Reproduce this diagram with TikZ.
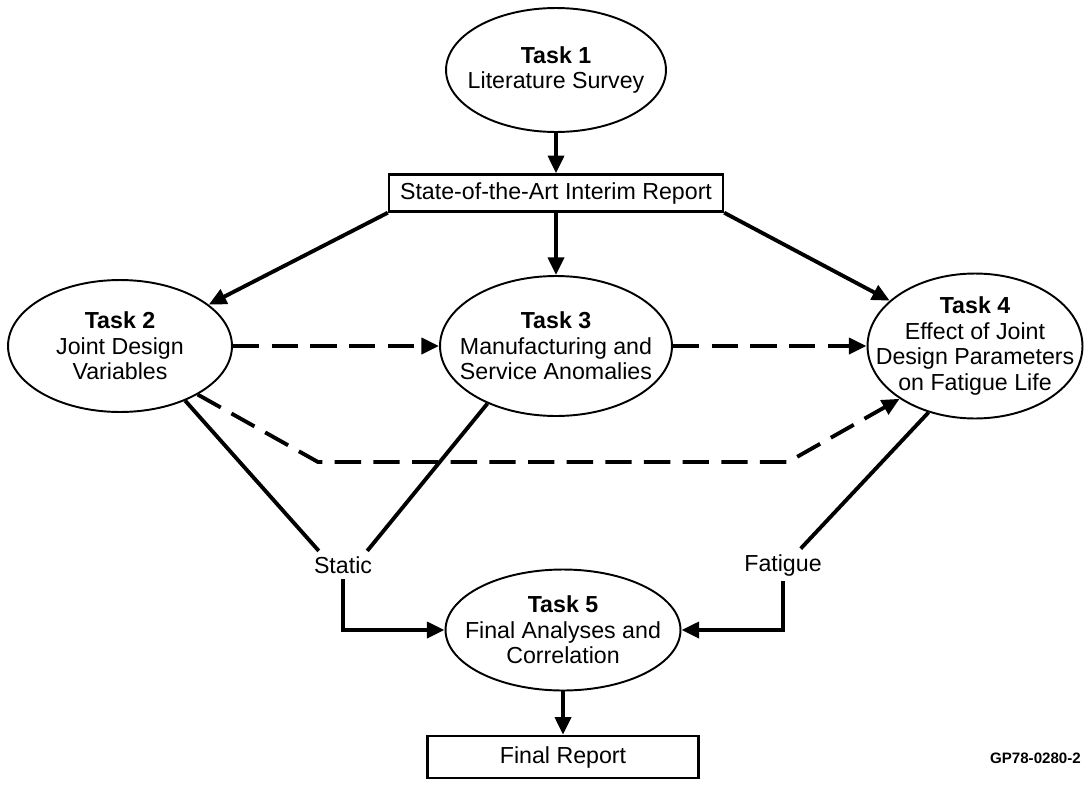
\documentclass[tikz,border=0pt]{standalone}
\usepackage{fontspec}
\setmainfont{Liberation Sans}
\usetikzlibrary{arrows.meta, shapes.geometric, calc}

\tikzset{
    task/.style={draw, ellipse, line width=1.1pt, inner sep=-20pt, align=center,
        font=\fontsize{13.2}{14.6}\selectfont},
    report/.style={draw, rectangle, line width=1.4pt, inner sep=0pt,
        font=\fontsize{13.2}{14.6}\selectfont},
    tag/.style={inner sep=3pt, font=\fontsize{13.2}{14.6}\selectfont},
    flow/.style={line width=2.2pt, -{Triangle[length=10pt, width=9pt]}},
    link/.style={line width=2.2pt},
    ddash/.style={dash pattern=on 15pt off 7pt},
}

\begin{document}
\begin{tikzpicture}[x=0.02cm, y=-0.02cm]
    \useasboundingbox (0,0) rectangle (1088,788);

    \node[task, minimum width=4.4cm, minimum height=2.48cm] (T1) at (556,70)
        {\textbf{Task 1}\\Literature Survey};
    \node[report, minimum width=6.68cm, minimum height=0.74cm] (interim) at (556,193)
        {State-of-the-Art Interim Report};
    \node[task, minimum width=4.48cm, minimum height=2.64cm] (T2) at (120,346)
        {\textbf{Task 2}\\Joint Design\\Variables};
    \node[task, minimum width=4.64cm, minimum height=2.8cm] (T3) at (556,346)
        {\textbf{Task 3}\\Manufacturing and\\Service Anomalies};
    \node[task, minimum width=4.3cm, minimum height=2.9cm] (T4) at (975,346)
        {\textbf{Task 4}\\Effect of Joint\\Design Parameters\\on Fatigue Life};
    \node[task, minimum width=4.7cm, minimum height=2.42cm] (T5) at (563,630)
        {\textbf{Task 5}\\Final Analyses and\\Correlation};
    \node[report, minimum width=5.42cm, minimum height=0.84cm] (final) at (563,757)
        {Final Report};
    \node[tag] (static) at (343,565) {Static};
    \node[tag] (fatigue) at (783,565) {Fatigue};
    \node[anchor=east, font=\bfseries\fontsize{8.6}{9}\selectfont] (gp) at (1087,758)
        {GP78-0280-2};

    \coordinate (bendL) at (318,462);
    \coordinate (bendR) at (788,462);

    \draw[flow] (T1.south) -- (interim.north);
    \draw[flow] (interim.south) -- (T3.north);
    \draw[flow] (interim.south west) -- (T2.25);
    \draw[flow] (interim.south east) -- (T4.152);

    \draw[flow, ddash] (T2.east) -- (T3.west);
    \draw[flow, ddash] (T3.east) -- (T4.west);
    \draw[flow, ddash] (T2.-32) -- (bendL) -- (bendR) -- (T4.215);

    \draw[link] (T2.-40) -- ($(static.north west)!0.15!(static.north east)$);
    \draw[link] (T3.220) -- ($(static.north west)!0.85!(static.north east)$);
    \draw[flow] (static.south) |- (T5.west);
    \draw[link] (T4.235) -- ($(fatigue.north west)!0.7!(fatigue.north east)$);
    \draw[flow] (fatigue.south) |- (T5.east);
    \draw[flow] (T5.south) -- (final.north);
\end{tikzpicture}
\end{document}
